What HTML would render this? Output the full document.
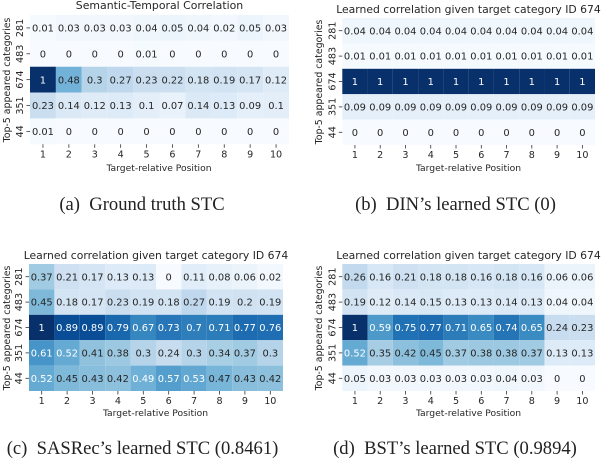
<!DOCTYPE html>
<html>
<head>
<meta charset="utf-8">
<style>
html,body{margin:0;padding:0;background:#fff;width:602px;height:460px;overflow:hidden}
svg{display:block}
text{font-family:"DejaVu Sans",sans-serif;fill:#262626}
.cap{font-family:"Liberation Serif",serif;font-size:18.6px;fill:#222}
</style>
</head>
<body>
<svg id="fig" width="602" height="460" viewBox="0 0 602 460" xmlns="http://www.w3.org/2000/svg"></svg>
<script>
const positions = ["1","2","3","4","5","6","7","8","9","10"];
const categories = ["281","483","674","351","44"];
const valuesA = [
 [0.01,0.03,0.03,0.03,0.04,0.05,0.04,0.02,0.05,0.03],
 [0,0,0,0,0.01,0,0,0,0,0],
 [1,0.48,0.3,0.27,0.23,0.22,0.18,0.19,0.17,0.12],
 [0.23,0.14,0.12,0.13,0.1,0.07,0.14,0.13,0.09,0.1],
 [0.01,0,0,0,0,0,0,0,0,0]];
const valuesB = [
 [0.04,0.04,0.04,0.04,0.04,0.04,0.04,0.04,0.04,0.04],
 [0.01,0.01,0.01,0.01,0.01,0.01,0.01,0.01,0.01,0.01],
 [1,1,1,1,1,1,1,1,1,1],
 [0.09,0.09,0.09,0.09,0.09,0.09,0.09,0.09,0.09,0.09],
 [0,0,0,0,0,0,0,0,0,0]];
const valuesC = [
 [0.37,0.21,0.17,0.13,0.13,0,0.11,0.08,0.06,0.02],
 [0.45,0.18,0.17,0.23,0.19,0.18,0.27,0.19,0.2,0.19],
 [1,0.89,0.89,0.79,0.67,0.73,0.7,0.71,0.77,0.76],
 [0.61,0.52,0.41,0.38,0.3,0.24,0.3,0.34,0.37,0.3],
 [0.52,0.45,0.43,0.42,0.49,0.57,0.53,0.47,0.43,0.42]];
const valuesD = [
 [0.26,0.16,0.21,0.18,0.18,0.16,0.18,0.16,0.06,0.06],
 [0.19,0.12,0.14,0.15,0.13,0.13,0.14,0.13,0.04,0.04],
 [1,0.59,0.75,0.77,0.71,0.65,0.74,0.65,0.24,0.23],
 [0.52,0.35,0.42,0.45,0.37,0.38,0.38,0.37,0.13,0.13],
 [0.05,0.03,0.03,0.03,0.03,0.03,0.04,0.03,0,0]];
const titles = ["Semantic-Temporal Correlation","Learned correlation given target category ID 674","Learned correlation given target category ID 674","Learned correlation given target category ID 674"];
const captions = ["(a)  Ground truth STC","(b)  DIN’s learned STC (0)","(c)  SASRec’s learned STC (0.8461)","(d)  BST’s learned STC (0.9894)"];
const xAxisTitle = "Target-relative Position";
const yAxisTitle = "Top-5 appeared categories";

const NS = "http://www.w3.org/2000/svg";
const fig = document.getElementById("fig");
const stops = ["#f7fbff","#deebf7","#c6dbef","#9ecae1","#6baed6","#4292c6","#2171b5","#08519c","#08306b"];
function hex(c){return [1,3,5].map(i=>parseInt(c.substr(i,2),16));}
function blues(v){
  const t = Math.max(0,Math.min(1,v))*(stops.length-1);
  const i = Math.min(stops.length-2,Math.floor(t));
  const a = hex(stops[i]), b = hex(stops[i+1]), f = t-i;
  return "rgb("+a.map((x,k)=>Math.round(x+(b[k]-x)*f)).join(",")+")";
}
function mk(tag,attrs,parent,txt){
  const e = document.createElementNS(NS,tag);
  for(const k in attrs) e.setAttribute(k,attrs[k]);
  if(txt!==undefined) e.textContent = txt;
  parent.appendChild(e);
  return e;
}
function drawPanel(id,values,title,caption,box){
  const g = mk("g",{},fig);
  
  
  const xScale = i => box.x + (i+0.5)*(box.w/positions.length);
  const yScale = j => box.y + (j+0.5)*(box.h/categories.length);
  const cw = box.w/positions.length, ch = box.h/categories.length;
  values.forEach((row,j)=>row.forEach((v,i)=>{
    const r = mk("rect",{x:xScale(i)-cw/2,y:yScale(j)-ch/2,width:cw,height:ch,fill:blues(v)},g);
    
    
  }));
  values.forEach((row,j)=>row.forEach((v,i)=>{
    const t = mk("text",{x:xScale(i),y:yScale(j)+3.6,"text-anchor":"middle","font-size":9.9},g,String(v));
    t.style.fill = v>0.485 ? "#fff" : "#262626";
    
    
  }));
  const yb = box.y+box.h;
  positions.forEach((p,i)=>{
    const tk = mk("line",{x1:xScale(i),x2:xScale(i),y1:yb,y2:yb+3.5,stroke:"#333","stroke-width":0.8},g);
    
    
    const t = mk("text",{x:xScale(i),y:yb+13.2,"text-anchor":"middle","font-size":9.6},g,p);
    
    
  });
  categories.forEach((c,j)=>{
    const tk = mk("line",{x1:box.x-3.5,x2:box.x,y1:yScale(j),y2:yScale(j),stroke:"#333","stroke-width":0.8},g);
    
    
    const tx = box.x-7;
    const t = mk("text",{x:tx,y:yScale(j),"text-anchor":"middle","font-size":9.6,transform:"rotate(-90 "+tx+" "+yScale(j)+")"},g,c);
    
    
  });
  const tt = mk("text",{x:box.tx,y:box.ty,"text-anchor":"middle","font-size":box.tf},g,title);
  
  
  const xt = mk("text",{x:box.xtx,y:box.xty,"text-anchor":"middle","font-size":9.2},g,xAxisTitle);
  
  
  const yt = mk("text",{x:box.ylx,y:box.yly,"text-anchor":"middle","font-size":9.4,transform:"rotate(-90 "+box.ylx+" "+box.yly+")"},g,yAxisTitle);
  
  
  const cp = mk("text",{class:"cap",x:box.cx,y:box.cy,"text-anchor":"middle"},g,caption);
  cp.style.whiteSpace = "pre";
  
  
}
drawPanel("a",valuesA,titles[0],captions[0],{x:30,y:15,w:259,h:129.3,tx:159.5,ty:9,tf:10.9,xtx:159,xty:171,ylx:10,yly:80,cx:142,cy:210});
drawPanel("b",valuesB,titles[1],captions[1],{x:342.3,y:18,w:252.7,h:127,tx:468.5,ty:13,tf:10.8,xtx:468.5,xty:171,ylx:322,yly:82,cx:455.5,cy:210});
drawPanel("c",valuesC,titles[2],captions[2],{x:29,y:264,w:254,h:127,tx:156,ty:259,tf:10.8,xtx:155.5,xty:416,ylx:10,yly:328,cx:142.5,cy:454});
drawPanel("d",valuesD,titles[3],captions[3],{x:342.3,y:264,w:252.7,h:127,tx:468.5,ty:259,tf:10.8,xtx:468.5,xty:416,ylx:322,yly:328,cx:455,cy:454});
</script>
</body>
</html>
